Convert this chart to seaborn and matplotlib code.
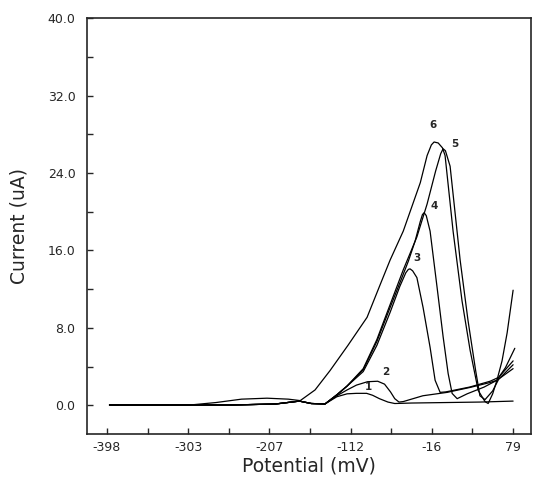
import numpy as np
import pandas as pd
import matplotlib
matplotlib.use('Agg')
import matplotlib.pyplot as plt
import seaborn as sns

# potential (mV) / current (uA)
BASE_X = [-395, -250, -200, -172, -158, -142]
BASE_Y = [0.05, 0.05, 0.15, 0.45, 0.2, 0.15]

c1_x = BASE_X + [-128, -116, -105, -93, -86, -78, -68, -60, -40, 0, 40, 79]
c1_y = BASE_Y + [0.9, 1.2, 1.25, 1.25, 1.05, 0.7, 0.35, 0.2, 0.25, 0.3, 0.35, 0.45]

c2_x = BASE_X + [-128, -116, -105, -92, -80, -72, -65, -60, -55, -50, -27, 1.5, 28.5, 52, 60, 70, 81]
c2_y = BASE_Y + [1.0, 1.6, 2.1, 2.45, 2.5, 2.2, 1.4, 0.7, 0.35, 0.4, 1.0, 1.35, 1.86, 2.37, 2.6, 3.9, 5.9]

c3_x = BASE_X + [-128, -116, -97, -81, -65.5, -54, -47, -44, -42, -39, -34, -26.7,
                 -18.5, -12.6, -6.7, 0, 28, 52, 62, 79]
c3_y = BASE_Y + [1.1, 2.0, 3.5, 6.2, 9.6, 12.3, 13.7, 14.05, 14.1, 13.9, 13.2, 10.1,
                 6.0, 2.6, 1.35, 1.4, 1.9, 2.5, 2.9, 4.6]

c4_x = BASE_X + [-128, -116, -97, -81, -65.5, -52, -44, -36, -30, -27.5, -25.5, -23,
                 -18.5, -10.3, -3.2, 2.7, 7.4, 13.3, 25, 45, 60, 79]
c4_y = BASE_Y + [1.1, 2.0, 3.7, 6.6, 10.1, 13.1, 14.9, 17.0, 19.0, 19.7, 19.9, 19.6,
                 18.0, 12.2, 7.1, 3.3, 1.24, 0.7, 1.2, 1.9, 2.6, 3.8]

c5_x = BASE_X + [-128, -116, -97, -81, -65.5, -50, -34, -22, -12, -6, -3.2, -0.5,
                 5, 16.8, 26, 35, 40, 46, 55, 62, 79]
c5_y = BASE_Y + [1.1, 2.0, 3.8, 6.8, 10.4, 14.0, 17.4, 20.8, 24.2, 26.0, 26.5, 26.3,
                 24.7, 15.0, 8.8, 3.6, 1.0, 0.6, 1.5, 2.7, 4.2]

c6_x = [-395, -300, -270, -240, -210, -185, -171, -153.6, -136, -115, -92.5, -77, -65.5,
        -50, -30, -22, -17, -13.8, -9, -4, -0.9, 8.5, 19, 28.5, 38, 46, 49.7,
        55, 60, 66, 72, 79]
c6_y = [0.05, 0.05, 0.3, 0.65, 0.75, 0.65, 0.5, 1.6, 3.6, 6.2, 9.1, 12.5, 15.0,
        18.0, 23.0, 25.8, 26.9, 27.2, 27.1, 26.6, 25.8, 18.0, 10.8, 5.7, 1.55, 0.4, 0.2,
        1.2, 2.6, 4.6, 7.5, 11.9]

curve_names = ['1', '2', '3', '4', '5', '6']
label_x = [-91, -70, -34, -14, 11, -15]
label_y = [1.35, 2.9, 14.7, 20.1, 26.5, 28.4]

XTICKS = [-398, -302.6, -207.2, -111.8, -16.4, 79]
XTICK_LABELS = ['-398', '-303', '-207', '-112', '-16', '79']
YTICKS = [0, 8, 16, 24, 32, 40]
YTICK_LABELS = ['0.0', '8.0', '16.0', '24.0', '32.0', '40.0']

all_x = [c1_x, c2_x, c3_x, c4_x, c5_x, c6_x]
all_y = [c1_y, c2_y, c3_y, c4_y, c5_y, c6_y]
frames = []
for name, xs, ys in zip(curve_names, all_x, all_y):
    frames.append(pd.DataFrame({'potential': xs, 'current': ys, 'curve': name}))
df = pd.concat(frames, ignore_index=True)

sns.set_style('ticks')
plt.rcParams['font.family'] = ['DejaVu Sans']

fig = plt.figure(figsize=(5.35, 4.83), dpi=100)
ax = fig.add_axes([0.1617, 0.1014, 0.8308, 0.8613])

sns.lineplot(data=df, x='potential', y='current', units='curve', estimator=None,
             sort=False, color='black', linewidth=0.9, ax=ax, legend=False)

for name, lx, ly in zip(curve_names, label_x, label_y):
    ax.text(lx, ly, name, fontsize=7.5, fontweight='bold', ha='center', va='bottom')

ax.set_xlim(-422, 100)
ax.set_ylim(-2.95, 40)

ax.set_xticks(XTICKS, XTICK_LABELS)
ax.set_xticks([(a + b) / 2 for a, b in zip(XTICKS[:-1], XTICKS[1:])], minor=True)
ax.set_yticks(YTICKS, YTICK_LABELS)
ax.set_yticks([(a + b) / 2 for a, b in zip(YTICKS[:-1], YTICKS[1:])], minor=True)

ax.tick_params(which='both', direction='in', length=4, width=1, labelsize=9)
ax.tick_params(axis='x', pad=5)
ax.tick_params(axis='y', pad=8)
for s in ax.spines.values():
    s.set_linewidth(1.2)
    s.set_visible(True)

ax.set_xlabel('Potential (mV)', fontsize=13.5, labelpad=2)
ax.set_ylabel('Current (uA)', fontsize=13.5, labelpad=14)

fig.savefig('out.png', dpi=100)
